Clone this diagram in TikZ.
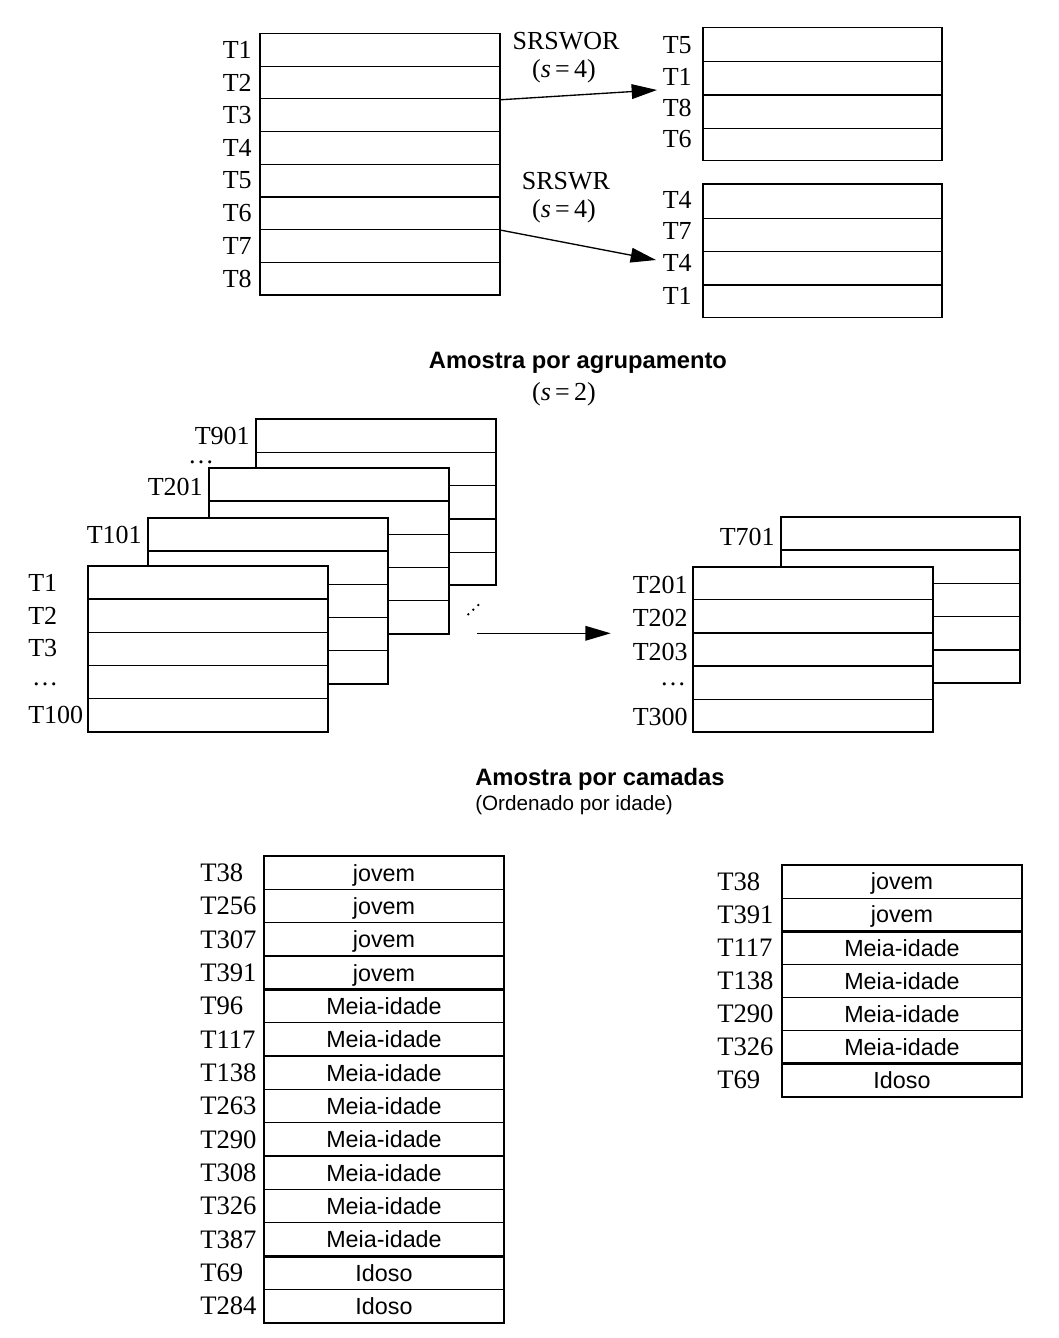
\documentclass[tikz,border=0pt]{standalone}
\usepackage{fontspec}
\setmainfont{Liberation Serif}
\setsansfont{Liberation Sans}
\usetikzlibrary{arrows.meta}
\begin{document}
\begin{tikzpicture}[x=0.75pt,y=-0.75pt,
  outer/.style={line width=1.3pt},
  inner/.style={line width=0.9pt},
  sepline/.style={line width=2.2pt},
  toplab/.style={font=\fontsize{19.5}{22}\selectfont, inner sep=0pt},
  midlab/.style={font=\fontsize{19.5}{22}\selectfont, inner sep=0pt},
  botlab/.style={font=\fontsize{20}{22}\selectfont, inner sep=0pt},
  cell/.style={font=\sffamily\fontsize{17.5}{20}\selectfont, inner sep=0pt, text height=12.5pt, text depth=0pt},
  title/.style={font=\sffamily\bfseries\fontsize{17.8}{20}\selectfont, inner sep=0pt},
  arr/.style={line width=1pt,-{Triangle[length=19pt,width=11pt]}}
]
\useasboundingbox (0,0) rectangle (1059,1338);

% ---------- top: population list ----------
\draw[outer] (260,33.5) rectangle (500,295);
\foreach \k in {1,...,7} \draw[inner] (260,{33.5+\k*32.69}) -- (500,{33.5+\k*32.69});
\foreach \t [count=\i] in {T1,T2,T3,T4,T5,T6,T7,T8}
  \node[toplab,anchor=east] (ma\i) at (252,{33.5+(\i-0.5)*32.69}) {\t};

% SRSWOR sample
\draw[outer] (703,27.5) rectangle (942,160.5);
\foreach \y in {61.7,95,128.3} \draw[inner] (703,\y) -- (942,\y);
\foreach \t/\y [count=\i] in {T5/45,T1/77,T8/108,T6/139}
  \node[toplab,anchor=east] (wo\i) at (692,\y) {\t};

% SRSWR sample
\draw[outer] (703,184) rectangle (942,317.5);
\foreach \y in {218.3,251.7,285} \draw[inner] (703,\y) -- (942,\y);
\foreach \t/\y [count=\i] in {T4/200,T7/231,T4/263,T1/296}
  \node[toplab,anchor=east] (wr\i) at (692,\y) {\t};

\node[toplab] (srswor) at (566,41) {SRSWOR};
\node[toplab] (swora) at (564,71) {(\textit{s}\,=\,4)};
\node[toplab] (srswr) at (566,181) {SRSWR};
\node[toplab] (swra) at (564,211) {(\textit{s}\,=\,4)};

\coordinate (s1) at (500,99.8);
\coordinate (e1) at (657,90);
\draw[arr] (s1) -- (e1);
\coordinate (s2) at (500,230);
\coordinate (e2) at (656,260);
\draw[arr] (s2) -- (e2);

% ---------- middle: cluster sampling ----------
\node[title] (t1) at (578,363) {Amostra por agrupamento};
\node[toplab] (t1s) at (564,394) {(\textit{s}\,=\,2)};

\foreach \x/\y in {256/419.3, 209/467.7, 147.7/517.7, 87.7/565.7} {
  \draw[outer,fill=white] (\x,\y) rectangle ++(240,166);
  \foreach \k in {1,...,4} \draw[inner] (\x,{\y+\k*33.2}) -- ++(240,0);
}
\node[midlab,anchor=east] (c901) at (250,436) {T901};
\node[midlab] (cd1) at (201,462) {\dots};
\node[midlab,anchor=east] (c201) at (203,487) {T201};
\node[midlab,anchor=east] (c101) at (142,535) {T101};
\node[midlab,anchor=west] (c1) at (28,583) {T1};
\node[midlab,anchor=west] (c2) at (28,615.5) {T2};
\node[midlab,anchor=west] (c3) at (28,648.5) {T3};
\node[midlab] (cd2) at (45,684) {\dots};
\node[midlab,anchor=west] (c100) at (28,715) {T100};

\foreach \p in {(468.3,614.3),(473.3,609.7),(478.3,605)} \fill \p circle (1.3);

\coordinate (m1) at (477,633.3);
\coordinate (m2) at (610.7,633.3);
\draw[arr] (m1) -- (m2);

\draw[outer,fill=white] (781,516.7) rectangle ++(239,166.6);
\foreach \k in {1,...,4} \draw[inner] (781,{516.7+\k*33.3}) -- ++(239,0);
\draw[outer,fill=white] (693.3,566.7) rectangle ++(240,165.6);
\foreach \k in {1,...,4} \draw[inner] (693.3,{566.7+\k*33.1}) -- ++(240,0);
\node[midlab,anchor=east] (k701) at (775,537) {T701};
\node[midlab,anchor=east] (k201) at (688,585) {T201};
\node[midlab,anchor=east] (k202) at (688,618) {T202};
\node[midlab,anchor=east] (k203) at (688,651.5) {T203};
\node[midlab] (kd) at (673,684) {\dots};
\node[midlab,anchor=east] (k300) at (688,717) {T300};

% ---------- bottom: stratified sampling ----------
\node[title,anchor=west] (t2) at (475,779) {Amostra por camadas};
\node[font=\sffamily\fontsize{15.5}{18}\selectfont,inner sep=0pt,anchor=west] (t2s) at (475,805) {(Ordenado por idade)};

\draw[outer] (264,856) rectangle (504,1322.7);
\foreach \k in {1,2,3,5,6,7,8,9,10,11,13} \draw[inner] (264,{856+\k*33.34}) -- (504,{856+\k*33.34});
\foreach \k in {4,12} \draw[sepline] (264,{856+\k*33.34}) -- (504,{856+\k*33.34});
\foreach \t/\c [count=\i] in {T38/jovem,T256/jovem,T307/jovem,T391/jovem,T96/Meia-idade,T117/Meia-idade,T138/Meia-idade,T263/Meia-idade,T290/Meia-idade,T308/Meia-idade,T326/Meia-idade,T387/Meia-idade,T69/Idoso,T284/Idoso} {
  \node[botlab,anchor=west] (bl\i) at (200,{856+(\i-0.5)*33.34}) {\t};
  \node[cell] (bc\i) at (384,{856+(\i-0.5)*33.34}) {\c};
}

\draw[outer] (782,865) rectangle (1022,1096.7);
\foreach \k in {1,3,4,5} \draw[inner] (782,{865+\k*33.1}) -- (1022,{865+\k*33.1});
\foreach \k in {2,6} \draw[sepline] (782,{865+\k*33.1}) -- (1022,{865+\k*33.1});
\foreach \t/\c [count=\i] in {T38/jovem,T391/jovem,T117/Meia-idade,T138/Meia-idade,T290/Meia-idade,T326/Meia-idade,T69/Idoso} {
  \node[botlab,anchor=west] (rl\i) at (717,{865+(\i-0.5)*33.1}) {\t};
  \node[cell] (rc\i) at (902,{865+(\i-0.5)*33.1}) {\c};
}
\end{tikzpicture}
\end{document}
